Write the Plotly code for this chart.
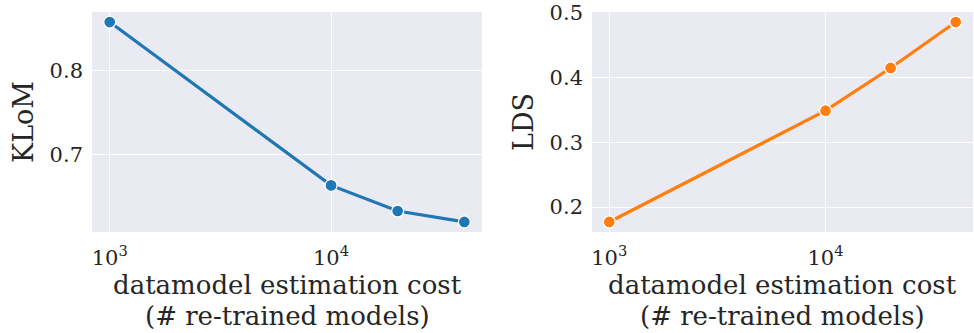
import plotly.graph_objects as go
from plotly.subplots import make_subplots

cost = [1000, 10000, 20000, 40000]
klom = [0.858, 0.6635, 0.633, 0.620]
lds = [0.177, 0.349, 0.415, 0.486]
xtick_vals = [1000, 10000]
xtick_text = ["10<sup>3</sup>", "10<sup>4</sup>"]
xtitle_lines = ["datamodel estimation cost", "(# re-trained models)"]

BG = "#EAEAF2"
FONT = "DejaVu Serif"
TICK = 21
TITLE = 27
XTITLE = 26
TC = "#262626"

fig = make_subplots(rows=1, cols=2)
fig.add_trace(go.Scatter(x=cost, y=klom, mode="lines+markers",
                         line=dict(color="#1f77b4", width=3.2),
                         marker=dict(size=12, color="#1f77b4", line=dict(color="white", width=1.3)),
                         showlegend=False), row=1, col=1)
fig.add_trace(go.Scatter(x=cost, y=lds, mode="lines+markers",
                         line=dict(color="#ff7f0e", width=3.2),
                         marker=dict(size=12, color="#ff7f0e", line=dict(color="white", width=1.3)),
                         showlegend=False), row=1, col=2)

H = 333
W = 974
ytop = 1 - 12 / H
ybot = 1 - 232 / H

common_x = dict(type="log", range=[2.92, 4.682], tickvals=xtick_vals, ticktext=xtick_text,
                showgrid=True, gridcolor="white", gridwidth=1.3, zeroline=False, automargin=False,
                showline=False, ticks="", ticklabelstandoff=11,
                tickfont=dict(size=TICK, color=TC, family=FONT))
common_y = dict(showgrid=True, gridcolor="white", gridwidth=1.3, zeroline=False, showline=False,
                automargin=False, ticks="", ticklabelstandoff=8,
                tickfont=dict(size=TICK, color=TC, family=FONT))

fig.update_xaxes(common_x)
fig.update_yaxes(common_y)
xdom1 = [92 / W, 482 / W]
xdom2 = [592 / W, 973 / W]
fig.update_layout(
    width=W, height=H,
    margin=dict(l=0, r=0, t=0, b=0),
    paper_bgcolor="white", plot_bgcolor=BG,
    font=dict(family=FONT, color=TC),
    xaxis=dict(domain=xdom1),
    xaxis2=dict(domain=xdom2),
    yaxis=dict(domain=[ybot, ytop], range=[0.608, 0.870], tickvals=[0.7, 0.8],
               title=dict(text="KLoM", font=dict(size=TITLE, family=FONT, color=TC), standoff=8)),
    yaxis2=dict(domain=[ybot, ytop], range=[0.1615, 0.5015], tickvals=[0.2, 0.3, 0.4, 0.5],
                title=dict(text="LDS", font=dict(size=TITLE, family=FONT, color=TC), standoff=8)),
)
for dom in (xdom1, xdom2):
    cx = (dom[0] + dom[1]) / 2
    for line, yc in zip(xtitle_lines, (285, 316)):
        fig.add_annotation(x=cx, y=1 - yc / H, xref="paper", yref="paper", text=line,
                           showarrow=False, xanchor="center", yanchor="middle", borderpad=0,
                           font=dict(size=XTITLE, family=FONT, color=TC))
fig.write_html("out.html", post_script="document.body.style.margin='0';",
               config={"displayModeBar": False})
